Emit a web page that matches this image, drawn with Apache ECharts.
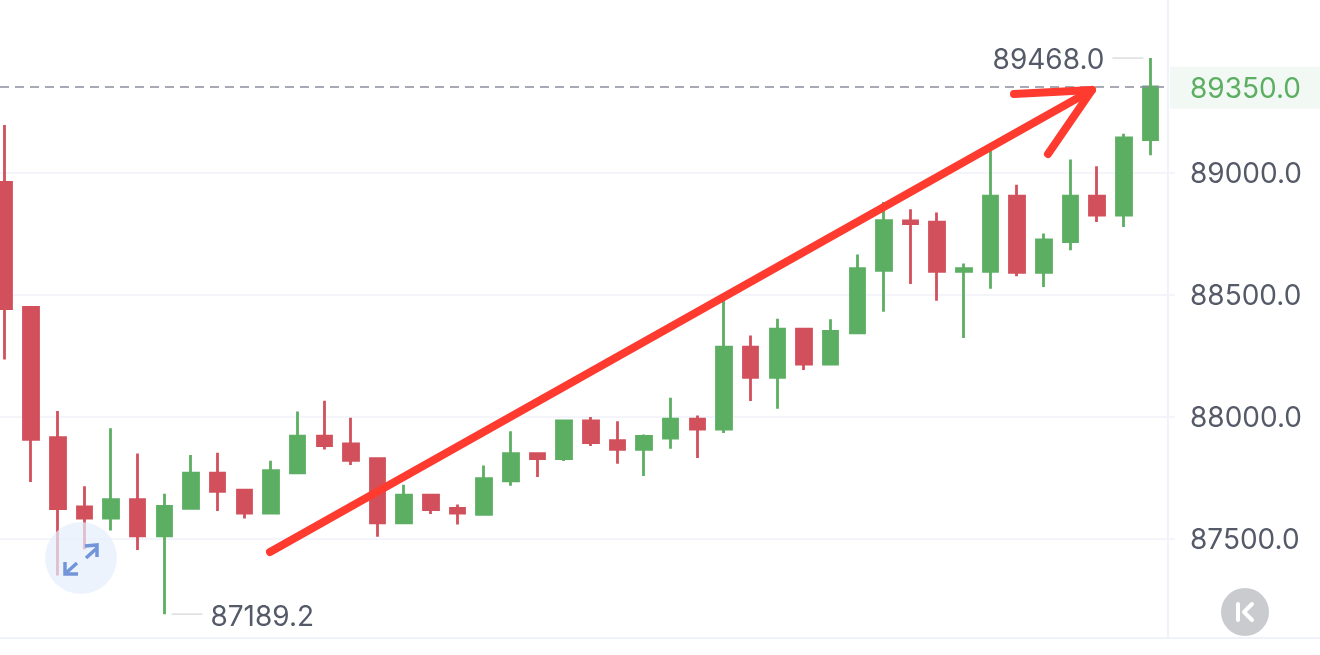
<!DOCTYPE html>
<html>
<head>
<meta charset="utf-8">
<style>html,body{margin:0;padding:0;background:#fff;overflow:hidden}#c{width:1320px;height:655px}</style>
<script src="https://cdn.jsdelivr.net/npm/echarts@6/dist/echarts.min.js"></script>
</head>
<body>
<div id="c"></div>
<script>
// [open, close, low, high], left to right
const opens  = [88958,88446,87912,87629,87583,87658,87510,87623,87767,87697,87603,87768,87919,87887,87826,87563,87677,87623,87598,87735,87847,87827,87981,87900,87865,87911,87988,87948,88283,88160,88357,88214,88342,88598,88801,88796,88594,88594,88902,88590,88716,88902,88825,89134];
const closes = [88441,87905,87622,87583,87658,87510,87631,87767,87692,87603,87777,87919,87880,87819,87563,87677,87618,87603,87744,87847,87827,87981,87892,87865,87918,87988,87948,88283,88160,88357,88214,88348,88605,88802,88790,88594,88605,88902,88590,88723,88902,88825,89141,89350];
const lows   = [88233,87731,87348,87455,87532,87452,87189.2,87623,87612,87581,87599,87768,87864,87800,87506,87563,87600,87557,87594,87715,87751,87817,87878,87806,87755,87867,87829,87932,88063,88031,88190,88212,88342,88428,88542,88473,88321,88523,88574,88530,88680,88796,88776,89070];
const highs  = [89194,88449,88022,87713,87951,87847,87683,87841,87851,87702,87818,88020,88064,87994,87829,87719,87677,87639,87798,87939,87851,87984,87997,87980,87925,88076,88003,88475,88331,88400,88357,88398,88663,88878,88848,88835,88626,89090,88949,88749,89052,89025,89158,89468];
const priceTicks = [87500,88000,88500,89000];
const lastPrice = 89350;
const extremes = [[43,89468,-1],[6,87189.2,1]];

const RED='#d1505b', GREEN='#5bae62', TEXT='#555a68', RULE='#f3f5fb';
const candles = opens.map((o,i)=>[i,o,closes[i],lows[i],highs[i]]);

const chart = echarts.init(document.getElementById('c'),null,{renderer:'canvas'});
chart.setOption({
  animation:false,
  backgroundColor:'#fff',
  textStyle:{fontFamily:'Inter'},
  grid:{left:0,right:152,top:0,height:638},
  xAxis:{type:'value',min:-0.169,max:43.66,
    axisLine:{show:true,onZero:false,lineStyle:{color:'#eff2fb',width:2}},
    axisTick:{show:false},axisLabel:{show:false},splitLine:{show:false}},
  yAxis:{type:'value',position:'right',min:87091.4,max:89706,
    axisLine:{show:true,onZero:false,lineStyle:{color:'#eff2fb',width:2}},
    axisTick:{show:true,length:7,customValues:priceTicks,lineStyle:{color:RULE,width:2}},
    splitLine:{show:true,lineStyle:{color:RULE,width:2}},
    axisLabel:{customValues:priceTicks,margin:22,fontSize:28,color:TEXT,fontFamily:'Inter',
      verticalAlign:'top',padding:[-12,0,0,0],formatter:v=>v.toFixed(1)}},
  series:[
    {type:'candlestick',data:candles,encode:{x:0,y:[1,2,3,4]},barWidth:15,
     itemStyle:{color:GREEN,color0:RED,borderColor:GREEN,borderColor0:RED,borderWidth:2.8},
     markLine:{silent:true,symbol:'none',animation:false,label:{show:false},
       lineStyle:{color:'#8b8f9c',type:[9,6],width:1.5},data:[{yAxis:lastPrice}]}},
    {type:'custom',data:extremes,clip:false,encode:{x:0,y:1},silent:true,z:5,
     renderItem:(p,api)=>{
       const pt=api.coord([api.value(0),api.value(1)]),d=api.value(2);
       const a=pt[0]+d*7,b=pt[0]+d*38,t=pt[0]+d*46;
       return {type:'group',children:[
         {type:'line',shape:{x1:a,y1:pt[1],x2:b,y2:pt[1]},style:{stroke:'#dcdde0',lineWidth:1.5}},
         {type:'text',style:{x:t,y:pt[1]+3,text:api.value(1).toFixed(1),fill:TEXT,
           font:'28px Inter',align:d>0?'left':'right',verticalAlign:'middle'}}]};
     }},
    {type:'custom',data:[[lastPrice]],clip:false,encode:{y:0},silent:true,z:6,
     renderItem:(p,api)=>{
       const y=api.coord([0,api.value(0)])[1];
       return {type:'group',children:[
         {type:'rect',shape:{x:1170,y:y-20,width:150,height:42},style:{fill:'#f2f8f3'}},
         {type:'text',style:{x:1190,y:y+3,text:api.value(0).toFixed(1),fill:GREEN,
           font:'28px Inter',align:'left',verticalAlign:'middle'}}]};
     }}
  ],
  graphic:[
    {type:'line',z:1,shape:{x1:1168,y1:638,x2:1320,y2:638},style:{stroke:'#eff2fb',lineWidth:2}},
    // hand-drawn arrow annotation
    {type:'polyline',z:100,shape:{points:[[270,552],[1092,90]]},style:{stroke:'#ff3b30',lineWidth:8,lineCap:'round',fill:null}},
    {type:'polyline',z:100,shape:{points:[[1014,94],[1092,90],[1048,154]]},style:{stroke:'#ff3b30',lineWidth:8,lineCap:'round',lineJoin:'round',fill:null}},
    // expand button
    {type:'circle',z:90,shape:{cx:81,cy:558,r:36},style:{fill:'#e6eefc',opacity:0.7}},
    {type:'polyline',z:91,shape:{points:[[86,558],[97,548]]},style:{stroke:'#7195d8',lineWidth:3.5,fill:null}},
    {type:'polyline',z:91,shape:{points:[[85,546],[97,545],[97,557]]},style:{stroke:'#7195d8',lineWidth:3.5,fill:null}},
    {type:'polyline',z:91,shape:{points:[[66,573],[77,563]]},style:{stroke:'#7195d8',lineWidth:3.5,fill:null}},
    {type:'polyline',z:91,shape:{points:[[65,562],[65,574],[78,574]]},style:{stroke:'#7195d8',lineWidth:3.5,fill:null}},
    // collapse button
    {type:'circle',z:90,shape:{cx:1245,cy:612,r:24},style:{fill:'#c9cbcf'}},
    {type:'polyline',z:91,shape:{points:[[1238,604],[1238,620]]},style:{stroke:'#fff',lineWidth:4,lineCap:'round',fill:null}},
    {type:'polyline',z:91,shape:{points:[[1252,604],[1244,612],[1252,620]]},style:{stroke:'#fff',lineWidth:4,lineCap:'round',lineJoin:'round',fill:null}}
  ]
});
</script>
</body>
</html>
